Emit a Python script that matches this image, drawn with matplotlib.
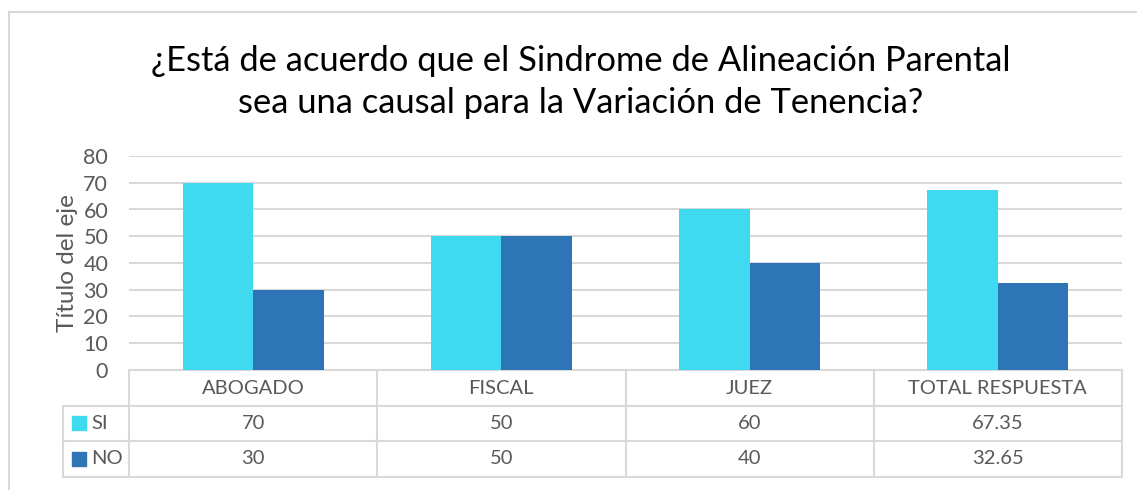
import matplotlib.pyplot as plt
import matplotlib.transforms as mtransforms
from matplotlib.patches import Rectangle
import numpy as np

categories = ["ABOGADO", "FISCAL", "JUEZ", "TOTAL RESPUESTA"]
si_values = [70, 50, 60, 67.35]
no_values = [30, 50, 40, 32.65]
si_labels = ["70", "50", "60", "67.35"]
no_labels = ["30", "50", "40", "32.65"]
series_names = ["SI", "NO"]

SI_COLOR = "#40DAF0"
NO_COLOR = "#2E75B6"
GRID = "#D9D9D9"
TEXT = "#595959"

plt.rcParams['font.family'] = ['Lato', 'DejaVu Sans']

fig = plt.figure(figsize=(11.37, 4.90), dpi=100)
W, H = 1137, 490

# outer chart border
fig.add_artist(Rectangle((9 / W, -0.1), 1.2, 1 - 12 / H + 0.1, transform=fig.transFigure,
                         fill=False, edgecolor=GRID, linewidth=1.5))

ax = fig.add_axes([129 / W, 1 - 370 / H, (1122 - 129) / W, (370 - 156) / H])
x = np.arange(len(categories))
bw = 0.284
ax.bar(x - bw / 2, si_values, bw, color=SI_COLOR, zorder=3)
ax.bar(x + bw / 2, no_values, bw, color=NO_COLOR, zorder=3)

ax.set_xlim(-0.5, len(categories) - 0.5)
ax.set_ylim(0, 80)
ax.set_yticks(range(0, 81, 10))
ax.yaxis.grid(True, color=GRID, linewidth=1.5, zorder=0)
ax.tick_params(axis='y', length=0, labelsize=15.5, labelcolor=TEXT, pad=15)
ax.tick_params(axis='x', length=0, labelbottom=False)
for s in ax.spines.values():
    s.set_visible(False)
ax.set_ylabel("Título del eje", fontsize=17.5, color=TEXT, labelpad=4)

# data table below the plot
tr = mtransforms.blended_transform_factory(ax.transData, ax.transAxes)
ph = 214.0
pw = 248.25
rows = [0, -36 / ph, -71 / ph, -107 / ph]
left_col = -0.5 - 66 / pw
right = len(categories) - 0.5
lk = dict(color=GRID, linewidth=1.5, transform=tr, clip_on=False)
# horizontal lines
ax.plot([-0.5, right], [rows[0], rows[0]], **lk)
for r in rows[1:]:
    ax.plot([left_col, right], [r, r], **lk)
# vertical lines
ax.plot([left_col, left_col], [rows[1], rows[3]], **lk)
for i in range(len(categories) + 1):
    ax.plot([i - 0.5, i - 0.5], [rows[0], rows[3]], **lk)

tk = dict(transform=tr, ha='center', va='center', fontsize=14.5, color=TEXT, clip_on=False)
for i, c in enumerate(categories):
    ax.text(i, (rows[0] + rows[1]) / 2, c, **tk)
    ax.text(i, (rows[1] + rows[2]) / 2, si_labels[i], **tk)
    ax.text(i, (rows[2] + rows[3]) / 2, no_labels[i], **tk)

# legend keys in the table
for name, color, r0, r1 in [(series_names[0], SI_COLOR, rows[1], rows[2]),
                            (series_names[1], NO_COLOR, rows[2], rows[3])]:
    yc = (r0 + r1) / 2
    ax.add_patch(Rectangle((left_col + 9 / pw, yc - 7 / ph), 14 / pw, 14 / ph,
                           transform=tr, color=color, clip_on=False))
    ax.text(left_col + 28 / pw, yc, name, transform=tr, ha='left', va='center',
            fontsize=14.5, color=TEXT, clip_on=False)

fig.text(581 / W, 1 - 82 / H,
         "¿Está de acuerdo que el Sindrome de Alineación Parental\nsea una causal para la Variación de Tenencia?",
         ha='center', va='center', fontsize=24.8, color="#000000", linespacing=1.35)

fig.savefig("out.png", dpi=100)
